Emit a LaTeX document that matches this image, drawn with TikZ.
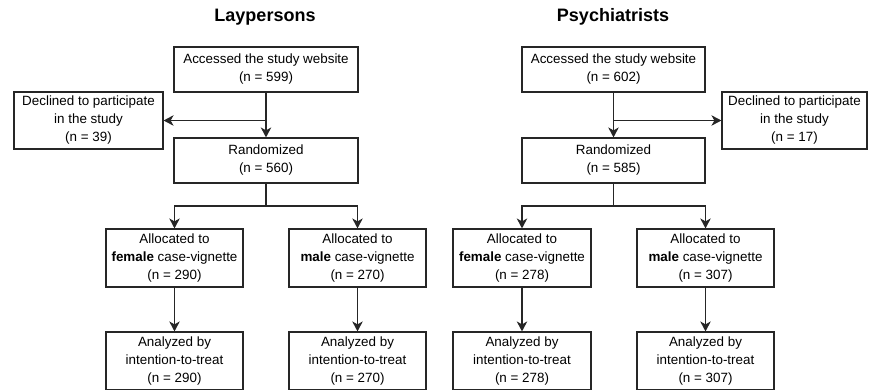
\documentclass[tikz,border=0pt]{standalone}
\usepackage{fontspec}
\setmainfont{Liberation Sans}
\usetikzlibrary{arrows.meta}
\tikzset{
  box/.style={draw=black!85, line width=1.2pt, inner sep=0pt, align=center, font=\fontsize{13.4}{18}\selectfont, minimum height=45pt},
  ttl/.style={font=\fontsize{18}{20}\selectfont\bfseries},
  arr/.style={draw=black!85, line width=1.2pt, -{Stealth[length=10pt,width=10.5pt,inset=3pt]}},
  ln/.style={draw=black!85, line width=1.2pt}
}
\begin{document}
\begin{tikzpicture}[x=1pt,y=-1pt]
\useasboundingbox (0,0) rectangle (869,389);
% titles
\node[ttl] (tL) at (265,17) {Laypersons};
\node[ttl] (tR) at (613,17) {Psychiatrists};
% left column
\node[box, minimum width=184pt] (accL) at (266,69.5) {Accessed the study website\\(n = 599)};
\node[box, minimum width=149pt, minimum height=57pt] (decL) at (88.5,120.5) {Declined to participate\\in the study\\(n = 39)};
\node[box, minimum width=184pt] (ranL) at (266,160.5) {Randomized\\(n = 560)};
\node[box, minimum width=137pt, minimum height=58pt] (femL) at (174.5,258) {Allocated to\\\textbf{female} case-vignette\\(n = 290)};
\node[box, minimum width=137pt, minimum height=58pt] (malL) at (357.5,258) {Allocated to\\\textbf{male} case-vignette\\(n = 270)};
\node[box, minimum width=137pt, minimum height=58pt] (anfL) at (174.5,361) {Analyzed by\\intention-to-treat\\(n = 290)};
\node[box, minimum width=137pt, minimum height=58pt] (anmL) at (357.5,361) {Analyzed by\\intention-to-treat\\(n = 270)};
% right column
\node[box, minimum width=183pt] (accR) at (613.5,69.5) {Accessed the study website\\(n = 602)};
\node[box, minimum width=145pt, minimum height=57pt] (decR) at (794.5,120.5) {Declined to participate\\in the study\\(n = 17)};
\node[box, minimum width=183pt] (ranR) at (613.5,160.5) {Randomized\\(n = 585)};
\node[box, minimum width=138pt, minimum height=58pt] (femR) at (522,258) {Allocated to\\\textbf{female} case-vignette\\(n = 278)};
\node[box, minimum width=137pt, minimum height=58pt] (malR) at (705.5,258) {Allocated to\\\textbf{male} case-vignette\\(n = 307)};
\node[box, minimum width=138pt, minimum height=58pt] (anfR) at (522,361) {Analyzed by\\intention-to-treat\\(n = 278)};
\node[box, minimum width=137pt, minimum height=58pt] (anmR) at (705.5,361) {Analyzed by\\intention-to-treat\\(n = 307)};
% connectors left
\coordinate (jL) at (accL.south |- decL.east);
\coordinate (sL) at (266,206);
\draw[arr] (accL.south) -- (ranL.north);
\draw[arr] (jL) -- (decL.east);
\draw[ln] (ranL.south) -- (sL);
\draw[arr] (sL) -| (femL.north);
\draw[arr] (sL) -| (malL.north);
\draw[arr] (femL.south) -- (anfL.north);
\draw[arr] (malL.south) -- (anmL.north);
% connectors right
\coordinate (jR) at (accR.south |- decR.west);
\coordinate (sR) at (613.5,206);
\draw[arr] (accR.south) -- (ranR.north);
\draw[arr] (jR) -- (decR.west);
\draw[ln] (ranR.south) -- (sR);
\draw[arr] (sR) -| (femR.north);
\draw[arr] (sR) -| (malR.north);
\draw[arr] (femR.south) -- (anfR.north);
\draw[arr] (malR.south) -- (anmR.north);
\end{tikzpicture}
\end{document}
